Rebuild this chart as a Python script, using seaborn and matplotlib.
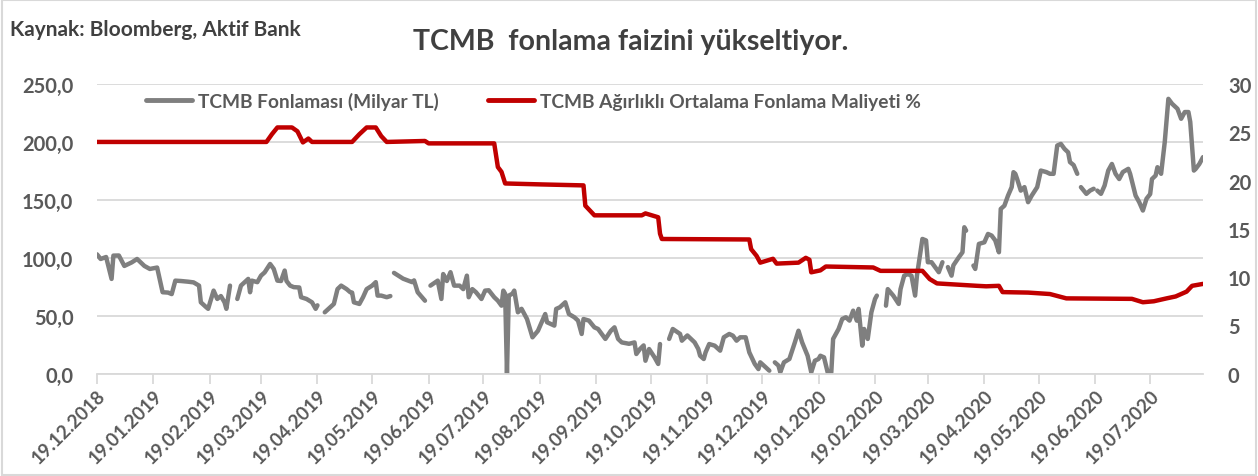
import numpy as np
import pandas as pd
import matplotlib
matplotlib.use("Agg")
import matplotlib.pyplot as plt
import seaborn as sns
from matplotlib.ticker import FuncFormatter, FixedLocator
from matplotlib.lines import Line2D
from matplotlib.patches import Rectangle

# ---------------- data ----------------
fund_dates = [
    "2018-12-19", "2018-12-21", "2018-12-24", "2018-12-27", "2018-12-28", "2018-12-31",
    "2019-01-03", "2019-01-07", "2019-01-10", "2019-01-14", "2019-01-17", "2019-01-21",
    "2019-01-24", "2019-01-27", "2019-01-29", "2019-01-31", "2019-02-03", "2019-02-07",
    "2019-02-10", "2019-02-13", "2019-02-14", "2019-02-17", "2019-02-18", "2019-02-21",
    "2019-02-23", "2019-02-25", "2019-02-27", "2019-02-28", "2019-03-02", "2019-03-04",
    "2019-03-06", "2019-03-08", "2019-03-12", "2019-03-13", "2019-03-14", "2019-03-17",
    "2019-03-19", "2019-03-21", "2019-03-24", "2019-03-26", "2019-03-28", "2019-03-30",
    "2019-04-01", "2019-04-02", "2019-04-04", "2019-04-06", "2019-04-09", "2019-04-10",
    "2019-04-13", "2019-04-16", "2019-04-18", "2019-04-19", "2019-04-21",
    "2019-04-23", "2019-04-28", "2019-04-30", "2019-05-02", "2019-05-05", "2019-05-07",
    "2019-05-08", "2019-05-09", "2019-05-12", "2019-05-14", "2019-05-16", "2019-05-19",
    "2019-05-21", "2019-05-22", "2019-05-24", "2019-05-27", "2019-05-29", "2019-05-30",
    "2019-05-31", "2019-06-05", "2019-06-10", "2019-06-11", "2019-06-13", "2019-06-17",
    "2019-06-18",
    "2019-06-20", "2019-06-24", "2019-06-26", "2019-06-27", "2019-06-29", "2019-07-01",
    "2019-07-03", "2019-07-06", "2019-07-08", "2019-07-10", "2019-07-11", "2019-07-13",
    "2019-07-15", "2019-07-18", "2019-07-20", "2019-07-22", "2019-07-25", "2019-07-27",
    "2019-07-29", "2019-07-30", "2019-07-31", "2019-08-01", "2019-08-02", "2019-08-04",
    "2019-08-05", "2019-08-07", "2019-08-09", "2019-08-12", "2019-08-15", "2019-08-18",
    "2019-08-22", "2019-08-23", "2019-08-27", "2019-08-28", "2019-08-30", "2019-09-02",
    "2019-09-04", "2019-09-07", "2019-09-09", "2019-09-11", "2019-09-12", "2019-09-15",
    "2019-09-18", "2019-09-20", "2019-09-24", "2019-09-27", "2019-09-29", "2019-10-01",
    "2019-10-03", "2019-10-07", "2019-10-10", "2019-10-11", "2019-10-13", "2019-10-15",
    "2019-10-16", "2019-10-18", "2019-10-21", "2019-10-23", "2019-10-24", "2019-10-26",
    "2019-10-29", "2019-10-31", "2019-11-04", "2019-11-05", "2019-11-08", "2019-11-12",
    "2019-11-14", "2019-11-15", "2019-11-17", "2019-11-18", "2019-11-20", "2019-11-23",
    "2019-11-26", "2019-11-28", "2019-12-01", "2019-12-03", "2019-12-05", "2019-12-07",
    "2019-12-10", "2019-12-12", "2019-12-15", "2019-12-17", "2019-12-18", "2019-12-21",
    "2019-12-23", "2019-12-24",
    "2019-12-26", "2019-12-28", "2019-12-29", "2019-12-31", "2020-01-03", "2020-01-06",
    "2020-01-08", "2020-01-10", "2020-01-13", "2020-01-15", "2020-01-17", "2020-01-19",
    "2020-01-20", "2020-01-22", "2020-01-24", "2020-01-26", "2020-01-27", "2020-01-29",
    "2020-01-30", "2020-02-01", "2020-02-03", "2020-02-05", "2020-02-07", "2020-02-09",
    "2020-02-10", "2020-02-12", "2020-02-13", "2020-02-15", "2020-02-17", "2020-02-19",
    "2020-02-20", "2020-02-22",
    "2020-02-25", "2020-02-26", "2020-02-29", "2020-03-03", "2020-03-04", "2020-03-06",
    "2020-03-08", "2020-03-10", "2020-03-12", "2020-03-13", "2020-03-16", "2020-03-18",
    "2020-03-19", "2020-03-21", "2020-03-23", "2020-03-25", "2020-03-27", "2020-03-28",
    "2020-03-30", "2020-04-01", "2020-04-02", "2020-04-05", "2020-04-07", "2020-04-08",
    "2020-04-09", "2020-04-11",
    "2020-04-13", "2020-04-14", "2020-04-16", "2020-04-19", "2020-04-21", "2020-04-23",
    "2020-04-25", "2020-04-27", "2020-04-28", "2020-04-30", "2020-05-02", "2020-05-04",
    "2020-05-05", "2020-05-06", "2020-05-07", "2020-05-09", "2020-05-11", "2020-05-13",
    "2020-05-15", "2020-05-18", "2020-05-20", "2020-05-23", "2020-05-25", "2020-05-27",
    "2020-05-29", "2020-05-31", "2020-06-02", "2020-06-04", "2020-06-05", "2020-06-07",
    "2020-06-09", "2020-06-10",
    "2020-06-11", "2020-06-14", "2020-06-16", "2020-06-18", "2020-06-19",
    "2020-06-20", "2020-06-22", "2020-06-24", "2020-06-26", "2020-06-28", "2020-06-30",
    "2020-07-02", "2020-07-04", "2020-07-07", "2020-07-08", "2020-07-11", "2020-07-13",
    "2020-07-15", "2020-07-17", "2020-07-19", "2020-07-20", "2020-07-22", "2020-07-23",
    "2020-07-25", "2020-07-27", "2020-07-29", "2020-07-31", "2020-08-03", "2020-08-05",
    "2020-08-07", "2020-08-09", "2020-08-10", "2020-08-12", "2020-08-13", "2020-08-15",
    "2020-08-17",
]
fund_values = [
    103, 99, 100.7, 81.8, 101.9, 102,
    93, 96, 99, 93, 90.4, 91.6,
    70.3, 70, 68.7, 80.3, 80, 79.4,
    78.8, 76, 61.6, 57.3, 56, 71.7,
    64.5, 67, 61.6, 56, 76, None,
    64.5, 76, 81.8, 70.3, 80.3, 79,
    84.6, 87.4, 94.7, 90.4, 80.3, 80,
    89, 80, 76, 74.7, 74.4, 66,
    64.5, 61.6, 56, 59, None,
    53, 60.2, 73, 76, 73, 70.3,
    70, 61.6, 60.2, 66, 73, 76,
    79, 67.4, 67.4, 66, 67, None,
    87, 82, 79, 80.5, 70.3, 63,
    None,
    76, 80.3, 64.5, 86, 80, 87.6,
    76, 76, 73, 84.6, 66, 73,
    70.3, 64.5, 71.7, 72, 66, 63,
    58.7, 71.7, 69, 0, 67.4, 69,
    71.7, 53, 56, 47.2, 31.4, 37,
    51.5, 44.4, 41.5, 55.9, 57.3, 61.6,
    51.5, 48.7, 45.8, 34.3, 47.2, 45.8,
    40, 38.6, 30, 37, 40, 30,
    27, 25.8, 27, 17, 21.3, 24.4,
    11.2, 21.3, 14.1, 8.4, 25.6, None,
    30, 38.6, 34.3, 28.5, 33, 27,
    21.3, 15.5, 12.7, 18.4, 25.6, 24.2,
    19.9, 31.4, 34.3, 32.8, 28.5, 31.4,
    31.4, 18.4, 8.4, 4, 9.8, 5.5,
    2.6, None,
    9.8, 7, 1.2, 9.8, 12.7, 27,
    37.1, 27, 15.5, 1.2, 11.2, 12.7,
    15.5, 14.1, 1.2, 1.2, 30, 35.7,
    38.6, 47.2, 48.7, 45.8, 54.4, 45.8,
    55.9, 24.2, 38.6, 30, 53, 64.5,
    67.4, None,
    58.7, 73, 67.4, 60.2, 73, 84.6,
    86, 84.6, 67.4, 84.6, 116.3, 115,
    96.2, 96.2, 91.9, 87.6, 96.2, None,
    92, 84.6, 93.5, 100.5, 104.8, 126.4,
    123.5, None,
    93.3, 90.4, 112, 113.4, 120.6, 119.2,
    115, 104.8, 142.2, 145, 153.7, 161,
    173.9, 172.5, 168, 158, 161, 148,
    153.7, 161, 175.3, 174, 172.5, 172.5,
    196.9, 198.3, 194, 191, 182.6, 180,
    172.5, None,
    161, 155.2, 158, 159.6, None,
    158, 155.2, 162.4, 175.3, 181, 172.5,
    168, 174, 176.8, 172.5, 153.7, 148,
    140.8, 151, 155, 168, 171, 178.2,
    172.5, 199.8, 237.2, 233, 228.6, 220,
    225.8, 225.8, 217.3, 175.3, 176.8, 181,
    186.9,
]

cost_dates = [
    "2018-12-19", "2019-03-22", "2019-03-25", "2019-03-28", "2019-04-05", "2019-04-08",
    "2019-04-11", "2019-04-14", "2019-04-16", "2019-05-08", "2019-05-12", "2019-05-16",
    "2019-05-21", "2019-05-24", "2019-05-27", "2019-06-17", "2019-06-19", "2019-07-25",
    "2019-07-27", "2019-07-29", "2019-07-31", "2019-08-20", "2019-09-12", "2019-09-13",
    "2019-09-15", "2019-09-18", "2019-10-14", "2019-10-16", "2019-10-23", "2019-10-24",
    "2019-10-25", "2019-12-12", "2019-12-13", "2019-12-16", "2019-12-18", "2019-12-25",
    "2019-12-27", "2020-01-08", "2020-01-12", "2020-01-14", "2020-01-15", "2020-01-20",
    "2020-01-23", "2020-02-18", "2020-02-22", "2020-03-16", "2020-03-20", "2020-03-24",
    "2020-04-15", "2020-04-20", "2020-04-27", "2020-04-29", "2020-05-13", "2020-05-25",
    "2020-06-03", "2020-07-09", "2020-07-15", "2020-07-21", "2020-07-28", "2020-08-02",
    "2020-08-08", "2020-08-11", "2020-08-17",
]
cost_values = [
    24.0, 24.0, 24.8, 25.5, 25.5, 25.1,
    23.95, 24.35, 24.0, 24.0, 24.8, 25.5,
    25.5, 24.6, 24.0, 24.1, 23.85, 23.85,
    21.4, 20.9, 19.7, 19.6, 19.5, 17.4,
    17.0, 16.4, 16.4, 16.6, 16.2, 14.5,
    13.95, 13.9, 12.9, 12.2, 11.5, 11.9,
    11.4, 11.5, 12.0, 11.8, 10.5, 10.7,
    11.1, 11.0, 10.65, 10.65, 9.8, 9.35,
    9.1, 9.05, 9.1, 8.45, 8.4, 8.25,
    7.8, 7.75, 7.4, 7.5, 7.8, 8.0,
    8.5, 9.1, 9.3,
]

tick_dates = [
    "2018-12-19", "2019-01-19", "2019-02-19", "2019-03-19", "2019-04-19", "2019-05-19",
    "2019-06-19", "2019-07-19", "2019-08-19", "2019-09-19", "2019-10-19", "2019-11-19",
    "2019-12-19", "2020-01-19", "2020-02-19", "2020-03-19", "2020-04-19", "2020-05-19",
    "2020-06-19", "2020-07-19",
]
left_ticks = [0, 50, 100, 150, 200, 250]
right_ticks = [0, 5, 10, 15, 20, 25, 30]

label_fund = "TCMB Fonlaması (Milyar TL)"
label_cost = "TCMB Ağırlıklı Ortalama Fonlama Maliyeti %"
title = "TCMB  fonlama faizini yükseltiyor."
source = "Kaynak: Bloomberg, Aktif Bank"

# ---------------- styling ----------------
GRAY = "#7f7f7f"
RED = "#c00000"
TXT = "#595959"
GRID = "#d9d9d9"

sns.set_theme(style="white")
plt.rcParams["font.family"] = ["Lato", "DejaVu Sans"]

fund = pd.DataFrame({"date": pd.to_datetime(fund_dates),
                     "value": pd.array(fund_values, dtype="Float64").astype(float)})
fund["seg"] = fund["value"].isna().cumsum()
fund = fund.dropna()
cost = pd.DataFrame({"date": pd.to_datetime(cost_dates), "value": cost_values})

fig = plt.figure(figsize=(12.58, 4.77), dpi=100)
W, H = 1258, 477
ax = fig.add_axes([97 / W, 1 - 374.7 / H, (1203 - 97) / W, (374.7 - 85) / H])
ax2 = ax.twinx()

sns.lineplot(data=fund, x="date", y="value", units="seg", estimator=None,
             color=GRAY, lw=3.2, ax=ax, legend=False, solid_capstyle="round")
sns.lineplot(data=cost, x="date", y="value", color=RED, lw=3.2, ax=ax2,
             legend=False, solid_capstyle="round")

x0 = pd.Timestamp("2018-12-19")
x1 = pd.Timestamp("2020-08-17")
ax.set_xlim(x0, x1)
ax.set_ylim(0, 250)
ax2.set_ylim(0, 30)

ax.yaxis.set_major_locator(FixedLocator(left_ticks))
ax.yaxis.set_major_formatter(FuncFormatter(lambda v, p: f"{v:.1f}".replace(".", ",")))
ax2.yaxis.set_major_locator(FixedLocator(right_ticks))

tick_ts = pd.to_datetime(tick_dates)
ax.set_xticks(tick_ts)
ax.set_xticklabels([t.strftime("%d.%m.%Y") for t in tick_ts])

ax.grid(axis="y", color=GRID, lw=1.3)
ax.grid(axis="x", visible=False)
ax2.grid(False)
for a in (ax, ax2):
    for s in ("top", "left", "right", "bottom"):
        a.spines[s].set_visible(False)
    a.set_xlabel("")
    a.set_ylabel("")
ax.spines["bottom"].set_visible(True)
ax.spines["bottom"].set_color(GRID)
ax.spines["bottom"].set_linewidth(1.3)

ax.tick_params(axis="x", which="major", bottom=True, length=7, width=1.3, color=GRID,
               labelsize=13.5, labelcolor=TXT, pad=2)
ax.tick_params(axis="y", left=False, labelsize=14.5, labelcolor=TXT, pad=11)
ax2.tick_params(axis="y", right=False, labelsize=14.5, labelcolor=TXT, pad=12)
for lab in ax.get_xticklabels():
    lab.set_rotation(45)
    lab.set_ha("right")
    lab.set_va("top")
    lab.set_rotation_mode("anchor")
    lab.set_fontweight("bold")
for lab in ax.get_yticklabels() + ax2.get_yticklabels():
    lab.set_fontweight("bold")

handles = [Line2D([], [], color=GRAY, lw=3.5, solid_capstyle="round"),
           Line2D([], [], color=RED, lw=3.5, solid_capstyle="round")]
leg = fig.legend(handles, [label_fund, label_cost], loc="center left",
                 bbox_to_anchor=(146 / W, 1 - 102 / H), ncol=2, frameon=False,
                 handlelength=2.4, handletextpad=0.3, columnspacing=2.6,
                 borderpad=0, borderaxespad=0,
                 prop={"weight": "bold", "size": 13.8})
for t in leg.get_texts():
    t.set_color(TXT)

fig.text(631 / W, 1 - 42 / H, title, ha="center", va="center", fontsize=20.5,
         fontweight="bold", color="#404040")
fig.text(10 / W, 1 - 30 / H, source, ha="left", va="center", fontsize=15,
         fontweight="bold", color="#404040")

fig.patches.append(Rectangle((0.0015, 0.002), 0.997, 0.996, transform=fig.transFigure,
                             fill=False, edgecolor=GRID, lw=1.5))

fig.savefig("out.png", dpi=100)
